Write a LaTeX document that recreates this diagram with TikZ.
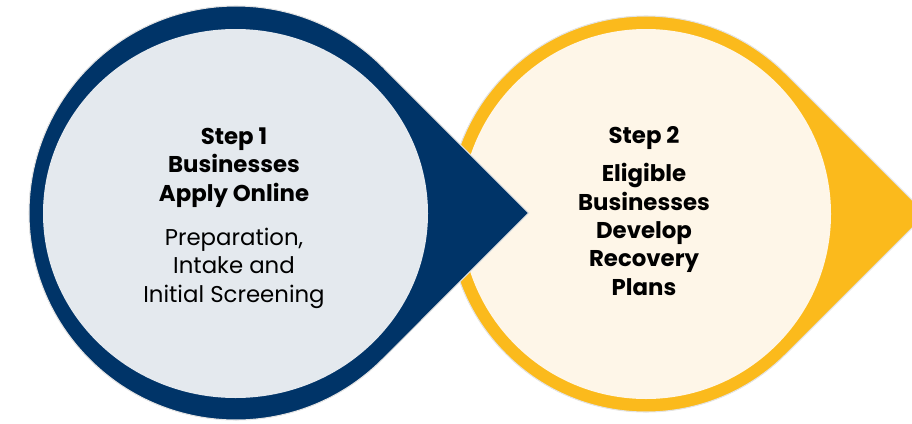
\documentclass[tikz,border=0pt]{standalone}
\usepackage{fontspec}
\setmainfont{Poppins}
\usepackage{tikz}
\usetikzlibrary{calc}

\definecolor{stepnavy}{RGB}{0,52,104}
\definecolor{steppale}{RGB}{228,233,238}
\definecolor{stepgold}{RGB}{251,186,28}
\definecolor{stepcream}{RGB}{254,246,232}

\begin{document}
\begin{tikzpicture}[
      x=0.02cm, y=-0.02cm,
      drop/.style ={draw=white!78!gray, line width=0.6pt},
      title/.style={font=\fontsize{13}{16.1}\selectfont\bfseries, align=center, inner sep=0pt, anchor=base},
      body/.style ={font=\fontsize{13}{16.1}\selectfont, align=center, inner sep=0pt, anchor=base}
    ]

    \useasboundingbox (0,0) rectangle (912,423);

    % Mittelpunkte der Tropfen
    \coordinate (C1) at (236,213);
    \coordinate (C2) at (646,214);

    \begin{scope}
      \clip (0,0) rectangle (912,423);

      % Tropfen 2 (hinten)
      \path[drop, fill=stepgold] ($(C2)+(280,0)$) -- ($(C2)+(45:198)$)
        arc[start angle=45, end angle=315, radius=198] -- cycle;
      \fill[stepcream] (C2) circle[radius=185];

      % Tropfen 1 (vorne)
      \path[drop, fill=stepnavy] ($(C1)+(292.7,0)$) -- ($(C1)+(45:207)$)
        arc[start angle=45, end angle=315, radius=207] -- cycle;
      \fill[steppale] (235.5,213.5) ellipse[x radius=192.5, y radius=184.5];
    \end{scope}

    % Texte Schritt 1 (Anker = Grundlinie der letzten Zeile)
    \node[title] (s1)  at (234,201) {Step 1\\Businesses\\Apply Online};
    \node[body]  (s1b) at (234,302) {Preparation,\\Intake and\\Initial Screening};

    % Texte Schritt 2
    \node[title] (s2)  at (644,143) {Step 2};
    \node[title] (s2b) at (644,295) {Eligible\\Businesses\\Develop\\Recovery\\Plans};

\end{tikzpicture}
\end{document}
